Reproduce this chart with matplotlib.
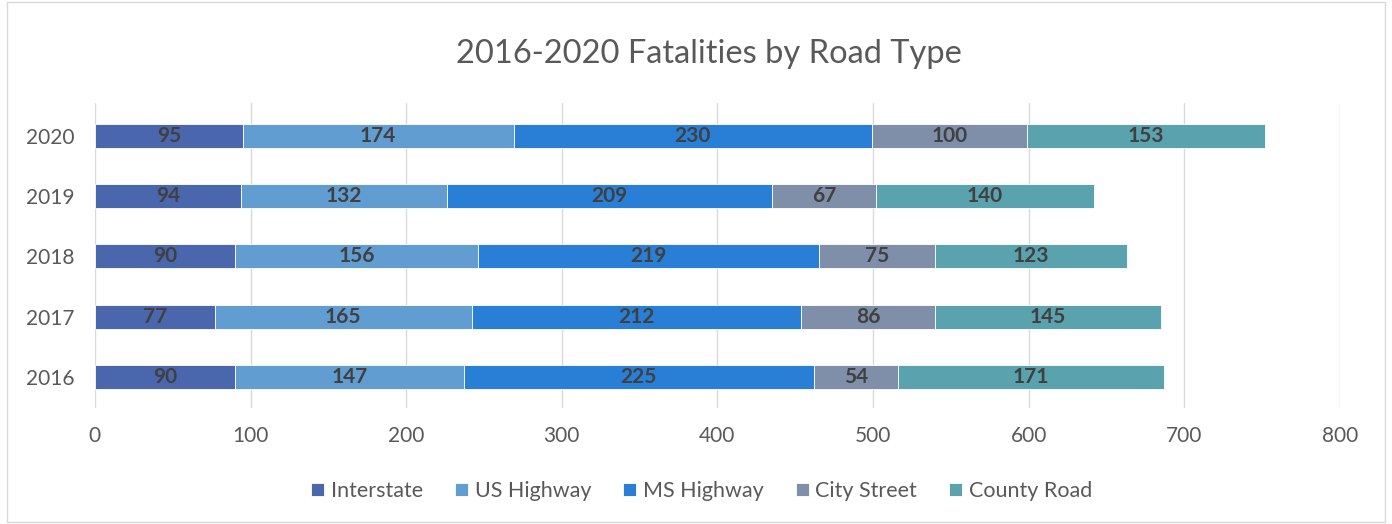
import matplotlib
matplotlib.use("Agg")
import matplotlib.pyplot as plt
from matplotlib.patches import Rectangle
import numpy as np

years = ["2016", "2017", "2018", "2019", "2020"]
series_names = ["Interstate", "US Highway", "MS Highway", "City Street", "County Road"]
interstate = [90, 77, 90, 94, 95]
us_highway = [147, 165, 156, 132, 174]
ms_highway = [225, 212, 219, 209, 230]
city_street = [54, 86, 75, 67, 100]
county_road = [171, 145, 123, 140, 153]
colors = ["#4A66AC", "#629DD1", "#297FD5", "#7F8FA9", "#5AA2AE"]

plt.rcParams['font.family'] = ['Lato', 'DejaVu Sans']

fig = plt.figure(figsize=(13.92, 5.24), dpi=100)
ax = fig.add_axes([0.0682, 0.2214, 0.8944, 0.582])
fig.patches.append(Rectangle((0.005, 0.003), 0.99, 0.994, transform=fig.transFigure,
                             fill=False, edgecolor="#D9D9D9", linewidth=1))

data = [interstate, us_highway, ms_highway, city_street, county_road]
y = np.arange(len(years))
left = np.zeros(len(years))
for name, vals, c in zip(series_names, data, colors):
    vals = np.array(vals, dtype=float)
    bars = ax.barh(y, vals, left=left, height=0.4, color=c, label=name,
                   edgecolor="white", linewidth=0.6, zorder=3)
    ax.bar_label(bars, labels=[str(int(v)) for v in vals], label_type="center",
                 fontsize=15, fontweight="bold", color="#404040")
    left += vals

ax.set_xlim(0, 800)
ax.set_ylim(-0.52, 4.55)
ax.set_xticks(np.arange(0, 801, 100))
ax.set_yticks(y)
ax.set_yticklabels(years)
ax.grid(axis="x", color="#D9D9D9", linewidth=1, zorder=0)
for s in ax.spines.values():
    s.set_visible(False)
ax.tick_params(axis="both", length=0, labelsize=15, labelcolor="#595959")
ax.tick_params(axis="x", pad=13)
ax.tick_params(axis="y", pad=15)

fig.text(0.509, 0.896, "2016-2020 Fatalities by Road Type", ha="center", va="center",
         fontsize=23.5, color="#595959")

fig.legend(loc="center", bbox_to_anchor=(0.504, 0.063), ncol=5, frameon=False,
           fontsize=15.5, labelcolor="#595959", handlelength=0.6, handleheight=0.6,
           handletextpad=0.3, columnspacing=1.5)

fig.savefig("out.png", dpi=100)
